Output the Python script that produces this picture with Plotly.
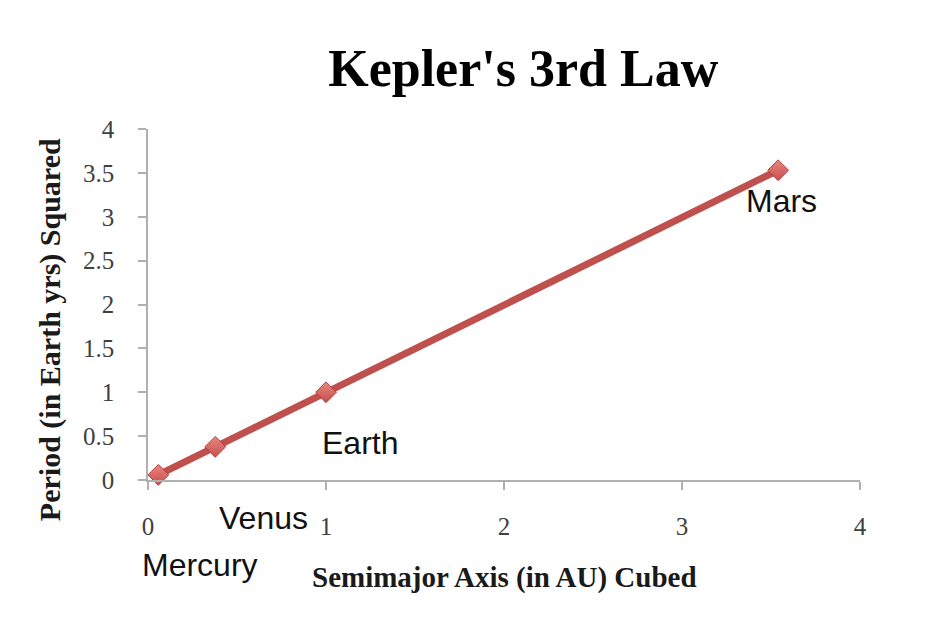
import plotly.graph_objects as go

# Kepler's 3rd law: a^3 vs P^2 for the inner planets
planets = ["Mercury", "Venus", "Earth", "Mars"]
axis_cubed = [0.058, 0.378, 1.0, 3.54]
period_squared = [0.058, 0.378, 1.0, 3.53]

# label offsets (pixels) from each point
label_dx = [42, 48, 34, 3]
label_dy = [-90, -71, -51, -31]

red = "#c0504d"
serif = "Liberation Serif, Times New Roman, serif"

fig = go.Figure(go.Scatter(
    x=axis_cubed,
    y=period_squared,
    mode="lines+markers",
    line=dict(color=red, width=7),
    marker=dict(
        symbol="diamond",
        size=16,
        color="#ea8683",
        gradient=dict(type="vertical", color="#c64f4c"),
        line=dict(color="#b3413e", width=1),
    ),
    cliponaxis=False,
    showlegend=False,
))

for name, x, y, dx, dy in zip(planets, axis_cubed, period_squared, label_dx, label_dy):
    fig.add_annotation(x=x, y=y, text=name, showarrow=False,
                       xshift=dx, yshift=dy,
                       font=dict(family="Liberation Sans, Arial, sans-serif", size=32, color="#111111"))

# axis titles
fig.add_annotation(x=0.5, y=-0.279, xref="paper", yref="paper",
                   xanchor="center", yanchor="middle",
                   text="<b>Semimajor Axis (in AU) Cubed</b>", showarrow=False,
                   font=dict(family=serif, size=29, color="#1a1a1a"))
fig.add_annotation(x=-0.1376, y=0.427, xref="paper", yref="paper",
                   xanchor="center", yanchor="middle",
                   text="<b>Period (in Earth yrs) Squared</b>", showarrow=False, textangle=-90,
                   font=dict(family=serif, size=30, color="#1a1a1a"))

fig.update_layout(
    width=919, height=617,
    margin=dict(l=140, r=67, t=121, b=145),
    paper_bgcolor="white", plot_bgcolor="white",
    title=dict(text="<b>Kepler's 3rd Law</b>", x=0.527, xref="paper", xanchor="center",
               y=0.903, yref="container", yanchor="middle",
               font=dict(family=serif, size=52, color="#000000")),
    xaxis=dict(range=[0, 4], dtick=1, showgrid=False, zeroline=False,
               showline=True, linecolor="#b0b0b0", linewidth=1.5,
               ticks="outside", ticklen=8, tickcolor="#b0b0b0", tickwidth=1.5,
               ticklabelstandoff=15,
               tickfont=dict(family=serif, size=25, color="#404040")),
    yaxis=dict(range=[0, 4], dtick=0.5, showgrid=False, zeroline=False,
               showline=True, linecolor="#b0b0b0", linewidth=1.5,
               ticks="outside", ticklen=8, tickcolor="#b0b0b0", tickwidth=1.5,
               ticklabelstandoff=19,
               tickfont=dict(family=serif, size=25, color="#404040")),
)

fig.write_html("out.html")
